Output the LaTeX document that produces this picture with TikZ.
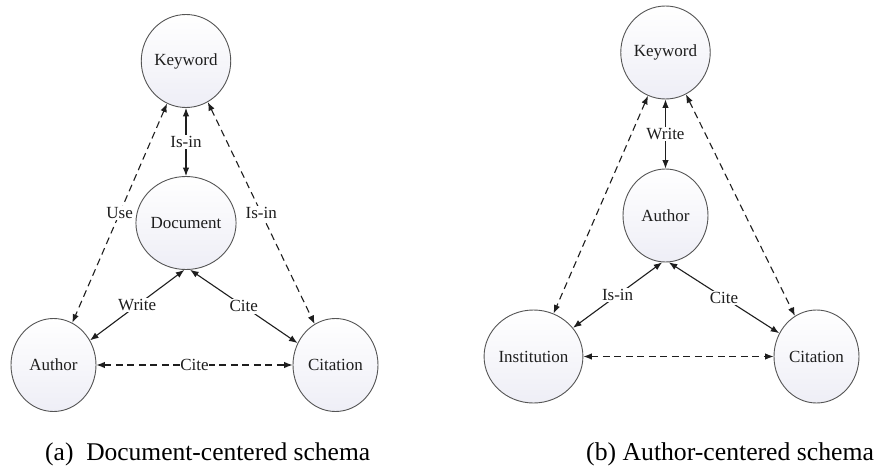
\documentclass[tikz,border=0pt]{standalone}
\usepackage{fontspec}
\setmainfont{Liberation Serif}
\usetikzlibrary{arrows.meta,shapes.geometric}
\definecolor{nodebot}{RGB}{238,238,246}
\definecolor{nodeedge}{RGB}{85,85,85}
\definecolor{ink}{RGB}{30,30,30}
\tikzset{
  ent/.style={ellipse, draw=nodeedge, line width=0.9pt, minimum width=85pt, minimum height=93pt,
    inner sep=0pt, top color=white, bottom color=nodebot, text=ink, font=\fontsize{17}{18}\selectfont},
  rel/.style={draw=ink, line width=1.1pt, {Latex[length=8.5pt,width=6.5pt]}-{Latex[length=8.5pt,width=6.5pt]}},
  dsh/.style={rel, dash pattern=on 7pt off 4.5pt},
  lab/.style={fill=white, inner sep=1.5pt, text=ink, font=\fontsize{17}{18}\selectfont},
  captext/.style={anchor=base west, inner sep=0pt}
}
\begin{document}
\begin{tikzpicture}[x=1pt,y=-1pt]
\useasboundingbox (0,0) rectangle (879,466);
\fill[white] (0,0) rectangle (879,466);
\begin{scope}
\clip (0,0) rectangle (879,466);
% ---------- (a) ----------
\node[ent] (ka) at (186,61) {Keyword};
\node[ent] (da) at (186,223) {Document};
\node[ent] (aa) at (53.5,365) {Author};
\node[ent] (ca) at (335.5,365) {Citation};

\draw[rel] (ka.-90) -- node[lab] {Is-in} (da.90);
\draw[dsh] (ka.-114.5) -- node[lab, pos=0.5] {Use} (aa.66.6);
\draw[dsh] (ka.-62.4) -- node[lab, pos=0.5] {Is-in} (ca.117.6);
\draw[rel] (da.-92) -- node[lab] {Write} (aa.34);
\draw[rel] (da.-85) -- node[lab] {Cite} (ca.150);
\draw[dsh] (aa.0) -- node[lab, inner sep=0.5pt] {Cite} (ca.180);

\node[captext, font=\fontsize{25.5}{28}\selectfont] (capa) at (45,460) {(a)\hspace{0.5em}Document-centered schema};

% ---------- (b) ----------
\node[ent] (kb) at (665.5,52.5) {Keyword};
\node[ent] (ab) at (665.5,215.5) {Author};
\node[ent] (ib) at (533.5,356.5) {Institution};
\node[ent] (cb) at (816.5,356.5) {Citation};

\draw[rel] (kb.-90) -- node[lab] {Write} (ab.90);
\draw[dsh] (kb.-112.7) -- (ib.65.9);
\draw[dsh] (kb.-64.2) -- (cb.118);
\draw[rel] (ab.-94) -- node[lab] {Is-in} (ib.36);
\draw[rel] (ab.-86) -- node[lab] {Cite} (cb.148.6);
\draw[dsh] (ib.0) -- (cb.180);

\node[captext, font=\fontsize{25.7}{28}\selectfont] (capb) at (586,460) {(b) Author-centered schema};
\end{scope}
\end{tikzpicture}
\end{document}
